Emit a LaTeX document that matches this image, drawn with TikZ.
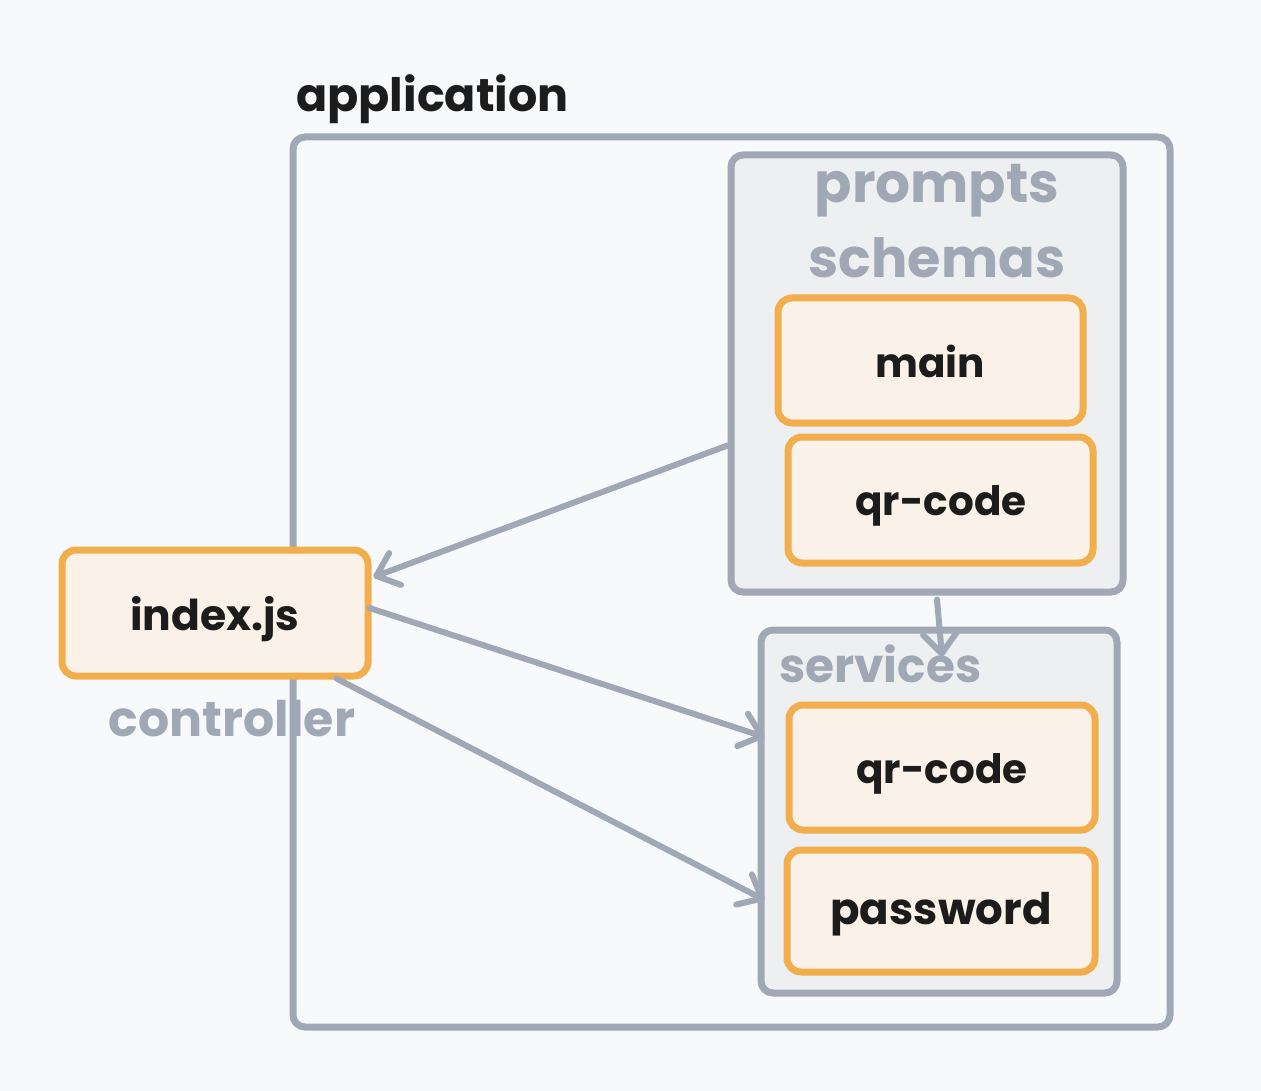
\documentclass[tikz,border=0pt]{standalone}
\usepackage{fontspec}
\setmainfont{Poppins}
\usetikzlibrary{arrows.meta}
\definecolor{bgc}{RGB}{248,249,251}
\definecolor{grline}{RGB}{160,168,181}
\definecolor{grfill}{RGB}{238,239,241}
\definecolor{orline}{RGB}{242,174,76}
\definecolor{orfill}{RGB}{250,242,233}
\definecolor{ink}{RGB}{28,28,28}
\tikzset{
  grbox/.style={draw=grline, line width=7pt, rounded corners=12pt, fill=grfill, inner sep=0pt},
  appbox/.style={draw=grline, line width=7pt, rounded corners=12pt, inner sep=0pt},
  orbox/.style={draw=orline, line width=7pt, rounded corners=14pt, fill=orfill, inner sep=0pt},
  blab/.style={text=ink, font=\fontsize{41}{47}\selectfont\bfseries, inner sep=0pt, anchor=base},
  glab/.style={text=grline, font=\fontsize{48}{54}\selectfont\bfseries, inner sep=0pt, anchor=base},
  conn/.style={draw=grline, line width=6pt, line cap=round, line join=round,
    -{Straight Barb[length=20pt, width=34pt, line width=6pt, round]}}
}
\begin{document}
\begin{tikzpicture}[x=1pt,y=-1pt]
\fill[bgc] (0,0) rectangle (1261,1091);
\useasboundingbox (0,0) rectangle (1261,1091);
% containers
\node[appbox, minimum width=877pt, minimum height=890pt] (app) at (731.5,582) {};
\node[text=ink, font=\fontsize{46}{52}\selectfont\bfseries, inner sep=0pt, anchor=base west] (applab) at (296,112) {application};
\node[grbox, minimum width=392pt, minimum height=437pt] (prompts) at (927,373.5) {};
\node[glab, font=\fontsize{55}{60}\selectfont\bfseries] (plab1) at (937,203) {prompts};
\node[glab, font=\fontsize{54}{60}\selectfont\bfseries] (plab2) at (937,278) {schemas};
\node[grbox, minimum width=356pt, minimum height=363pt] (services) at (939,811.5) {};
\node[glab, anchor=base west, font=\fontsize{47}{52}\selectfont\bfseries] (slab) at (779,682) {services};
% inner nodes
\node[orbox, minimum width=305pt, minimum height=125pt] (main) at (930.5,360.5) {};
\node[blab, font=\fontsize{40.5}{46}\selectfont\bfseries] (mainlab) at (930,377) {main};
\node[orbox, minimum width=305pt, minimum height=126pt] (qrp) at (940.5,500) {};
\node[blab, font=\fontsize{40.5}{46}\selectfont\bfseries] (qrplab) at (941,515) {qr-code};
\node[orbox, minimum width=306pt, minimum height=125pt] (qrs) at (942,767.5) {};
\node[blab, font=\fontsize{40.5}{46}\selectfont\bfseries] (qrslab) at (942,783) {qr-code};
\node[orbox, minimum width=308pt, minimum height=122pt] (pass) at (941,911) {};
\node[blab, font=\fontsize{43.5}{49}\selectfont\bfseries] (passlab) at (941,924) {password};
\node[orbox, minimum width=306pt, minimum height=126pt] (index) at (215,613) {};
\node[blab, font=\fontsize{42.5}{48}\selectfont\bfseries] (indexlab) at (215,630) {index.js};
\node[glab, font=\fontsize{49}{54}\selectfont\bfseries] (ctrl) at (232,736) {controller};
% connectors
\draw[conn] ([yshift=-72pt]prompts.west) -- ([yshift=36pt,xshift=2pt]index.east);
\draw[conn] ([yshift=5pt,xshift=-2pt]index.east) -- ([xshift=7pt,yshift=74.5pt]services.west);
\draw[conn] ([xshift=-35pt,yshift=1pt]index.south east) -- ([xshift=7pt,yshift=-88.5pt]services.west);
\draw[conn] ([xshift=10pt,yshift=-4pt]prompts.south) -- ([xshift=3pt,yshift=-30pt]services.north);
\end{tikzpicture}
\end{document}
